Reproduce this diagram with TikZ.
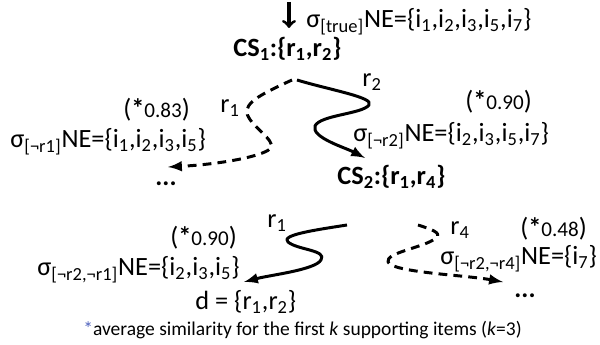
\documentclass[tikz,border=0pt]{standalone}
\usepackage{fontspec}
\setmainfont{Carlito}
\definecolor{starblue}{RGB}{79,98,189}
\newcommand{\sbs}[1]{\textsubscript{#1}}
\newcommand{\simv}[1]{(\textbf{*}{\fontsize{12}{14}\selectfont #1})}

\begin{document}
\begin{tikzpicture}[line join=round,
  font=\fontsize{15}{17}\selectfont,
  txt/.style={inner sep=0pt,anchor=base west},
  walk/.style={line width=1.7pt,-latex},
  walkdash/.style={walk,dash pattern=on 5pt off 3.5pt}]
  \useasboundingbox (0,0) rectangle (12,6.9);
  % 入口
  \node[txt] (sigtrue) at (6.12,6.34) {σ\sbs{[true]}NE=\{i\sbs{1},i\sbs{2},i\sbs{3},i\sbs{5},i\sbs{7}\}};
  \coordinate (in) at (5.78,6.86);
  \draw[line width=1.8pt,->] (in) -- (in |- sigtrue.base);
  \node[txt] (cs1) at (4.66,5.76) {\textbf{CS\sbs{1}:\{r\sbs{1},r\sbs{2}\}}};
  % 左支 r1（虚线）
  \coordinate (a1) at (5.84,5.30);
  \coordinate (a2) at (3.36,3.56);
  \draw[walkdash] (a1) .. controls (5.30,5.05) and (4.85,4.85) .. (4.95,4.60)
    .. controls (5.05,4.35) and (5.50,4.10) .. (5.42,3.95)
    .. controls (5.35,3.80) and (4.50,3.62) .. (a2);
  \node[txt] (r1a) at (4.40,4.64) {r\sbs{1}};
  \node[txt] (sim1) at (2.46,4.54) {\simv{0.83}};
  \node[txt] (nr1) at (0.20,3.94) {σ\sbs{[¬r1]}NE=\{i\sbs{1},i\sbs{2},i\sbs{3},i\sbs{5}\}};
  \node (dots1) at (3.32,3.22) {\textbf{...}};
  % 右支 r2
  \coordinate (b1) at (5.94,5.30);
  \coordinate (b2) at (7.30,3.74);
  \draw[walk] (b1) .. controls (6.60,5.10) and (7.50,4.95) .. (7.38,4.80)
    .. controls (7.25,4.62) and (6.40,4.60) .. (6.30,4.38)
    .. controls (6.22,4.15) and (6.90,3.95) .. (b2);
  \node[txt] (r2a) at (7.24,5.16) {r\sbs{2}};
  \node[txt] (sim2) at (9.30,4.70) {\simv{0.90}};
  \node[txt] (nr2) at (7.06,4.06) {σ\sbs{[¬r2]}NE=\{i\sbs{2},i\sbs{3},i\sbs{5},i\sbs{7}\}};
  \node[txt] (cs2) at (6.74,3.20) {\textbf{CS\sbs{2}:\{r\sbs{1},r\sbs{4}\}}};
  % 下左 r1
  \coordinate (c1) at (6.94,2.40);
  \coordinate (c2) at (4.88,1.26);
  \draw[walk] (c1) .. controls (6.30,2.30) and (5.60,2.20) .. (5.76,2.06)
    .. controls (5.95,1.90) and (6.55,1.90) .. (6.42,1.70)
    .. controls (6.30,1.50) and (5.40,1.40) .. (c2);
  \node[txt] (r1b) at (5.34,2.34) {r\sbs{1}};
  \node[txt] (sim3) at (3.40,1.98) {\simv{0.90}};
  \node[txt] (nr21) at (0.74,1.38) {σ\sbs{[¬r2,¬r1]}NE=\{i\sbs{2},i\sbs{3},i\sbs{5}\}};
  \node[txt] (dset) at (3.90,0.70) {d = \{r\sbs{1},r\sbs{2}\}};
  % 下右 r4（虚线）
  \coordinate (d1) at (8.36,2.40);
  \coordinate (d2) at (10.06,1.26);
  \draw[walkdash] (d1) .. controls (8.60,2.32) and (8.85,2.25) .. (8.72,2.14)
    .. controls (8.50,1.95) and (7.70,1.85) .. (7.76,1.66)
    .. controls (7.85,1.45) and (9.30,1.40) .. (d2);
  \node[txt] (r4b) at (9.00,2.20) {r\sbs{4}};
  \node[txt] (sim4) at (10.40,2.16) {\simv{0.48}};
  \node[txt] (nr24) at (8.80,1.60) {σ\sbs{[¬r2,¬r4]}NE=\{i\sbs{7}\}};
  \node (dots2) at (10.50,0.98) {\textbf{...}};
  % 脚注
  \node[txt,font=\fontsize{11.1}{13}\selectfont] (note) at (1.66,0.18)
    {{\color{starblue}*}average similarity for the first \textit{k} supporting items (\textit{k}=3)};
\end{tikzpicture}
\end{document}
